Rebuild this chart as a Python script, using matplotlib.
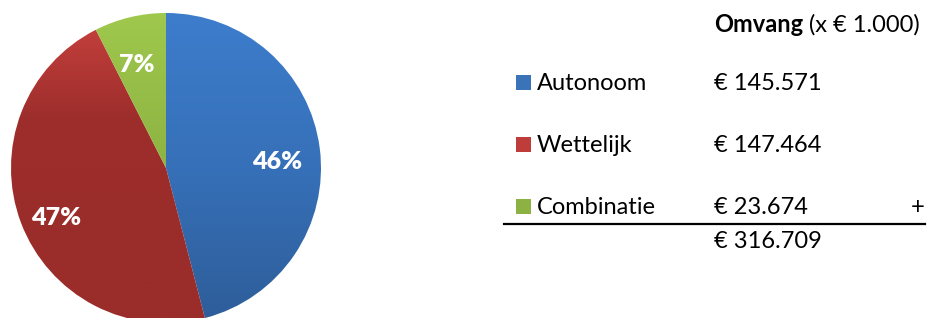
import numpy as np
import matplotlib.pyplot as plt
from matplotlib.patches import Rectangle
from matplotlib.colors import LinearSegmentedColormap

plt.rcParams['font.family'] = ['Lato', 'DejaVu Sans']

# Data
categories = ['Autonoom', 'Wettelijk', 'Combinatie']
values = [145571, 147464, 23674]  # x € 1.000
grad_colors = [
    ['#3d7dcc', '#3670b8', '#2e5d99'],
    ['#c8423e', '#9e2e2c', '#9a2c2a', '#9a2c2a'],
    ['#9fc84d', '#8db342', '#7a9a38'],
]
legend_colors = ['#3b73b9', '#be3c39', '#8db244']


def euro(v):
    return '€ ' + f'{v:,}'.replace(',', '.')


W, H = 929, 318
fig = plt.figure(figsize=(W / 100, H / 100), dpi=100)
ax = fig.add_axes([0, 0, 1, 1])

# Pie (pixel coordinates, y from bottom)
cx, cy, r = 166, 150, 155
wedges, _, autotexts = ax.pie(values, startangle=90, counterclock=False,
                              center=(cx, cy), radius=r, autopct='%1.0f%%',
                              pctdistance=0.74,
                              textprops=dict(color='white', fontsize=18,
                                             fontweight='heavy'))

# vertical gradient fill per wedge
grad = np.linspace(0, 1, 256).reshape(-1, 1)
for w, cols in zip(wedges, grad_colors):
    w.set_facecolor('none')
    w.set_edgecolor('none')
    cmap = LinearSegmentedColormap.from_list('g', cols)
    im = ax.imshow(grad, cmap=cmap, aspect='auto',
                   extent=(cx - r, cx + r, cy - r, cy + r), origin='upper',
                   zorder=1)
    im.set_clip_path(w)
for t in autotexts:
    t.set_zorder(5)
    x, y = t.get_position()
    t.set_position((x - 3, y - 9))

fs = 17
# Right side table
head = ax.text(714, H - 25, 'Omvang', fontsize=fs, fontweight='bold',
               va='center', ha='left')
ax.annotate(' (x € 1.000)', xy=(1, 0.5), xycoords=head, fontsize=fs,
            va='center', ha='left')

row_y = [83, 145, 207]
for name, v, c, y in zip(categories, values, legend_colors, row_y):
    ax.add_patch(Rectangle((516, H - y - 7), 15, 15, facecolor=c,
                           edgecolor='none'))
    ax.text(537, H - y, name, fontsize=fs, va='center', ha='left')
    ax.text(714, H - y, euro(v), fontsize=fs, va='center', ha='left')

ax.text(925, H - 207, '+', fontsize=fs, va='center', ha='right')
ax.plot([504, 925], [H - 224, H - 224], color='black', lw=1.6)
ax.text(714, H - 241, euro(sum(values)), fontsize=fs, va='center', ha='left')

ax.set_xlim(0, W)
ax.set_ylim(0, H)
ax.set_aspect('auto')
ax.axis('off')

fig.savefig('out.png', dpi=100, facecolor='white')
